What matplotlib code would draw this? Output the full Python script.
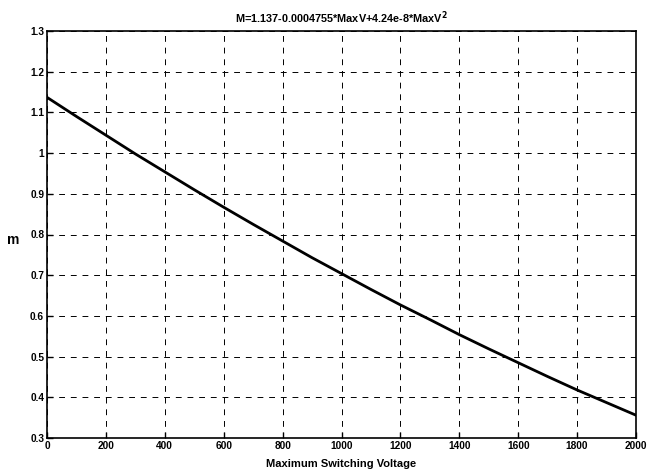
import matplotlib
matplotlib.use("Agg")
import matplotlib.pyplot as plt

# values
max_v = [0, 100, 200, 300, 400, 500, 600, 700, 800, 900, 1000,
         1100, 1200, 1300, 1400, 1500, 1600, 1700, 1800, 1900, 2000]
m_vals = [1.137, 1.090, 1.044, 0.998, 0.954, 0.910, 0.867, 0.825, 0.784, 0.743, 0.704,
          0.665, 0.627, 0.591, 0.554, 0.519, 0.485, 0.451, 0.418, 0.387, 0.356]
x_ticks = [0, 200, 400, 600, 800, 1000, 1200, 1400, 1600, 1800, 2000]
y_ticks = [0.3, 0.4, 0.5, 0.6, 0.7, 0.8, 0.9, 1.0, 1.1, 1.2, 1.3]
y_tick_labels = ["0.3", "0.4", "0.5", "0.6", "0.7", "0.8", "0.9", "1", "1.1", "1.2", "1.3"]

plt.rcParams['font.family'] = ['Liberation Sans', 'DejaVu Sans']

fig = plt.figure(figsize=(6.47, 4.75), dpi=100)
ax = fig.add_axes([47 / 647, 37 / 475, 589 / 647, 407 / 475])
ax.plot(max_v, m_vals, color='black', linewidth=2)
ax.set_xlim(0, 2000)
ax.set_ylim(0.3, 1.3)
ax.set_xticks(x_ticks)
ax.set_xticklabels([str(t) for t in x_ticks], fontsize=7.3, fontweight='bold')
ax.set_yticks(y_ticks)
ax.set_yticklabels(y_tick_labels, fontsize=7.3, fontweight='bold')
ax.tick_params(direction='in', length=4, width=1, pad=2)
ax.grid(True, color='black', linestyle=(0, (6, 6)), linewidth=0.7)
for s in ax.spines.values():
    s.set_linewidth(1.2)
ax.set_xlabel("Maximum Switching Voltage", fontsize=8, fontweight='bold', labelpad=6)
ax.set_ylabel("m", fontsize=10, fontweight='bold', rotation=0)
ax.yaxis.set_label_coords(-0.058, 0.47)
ax.set_title("M=1.137-0.0004755*MaxV+4.24e-8*MaxV$^{\\mathbf{2}}$", fontsize=7.8, fontweight='bold', pad=6)
fig.savefig("out.png", dpi=100)
